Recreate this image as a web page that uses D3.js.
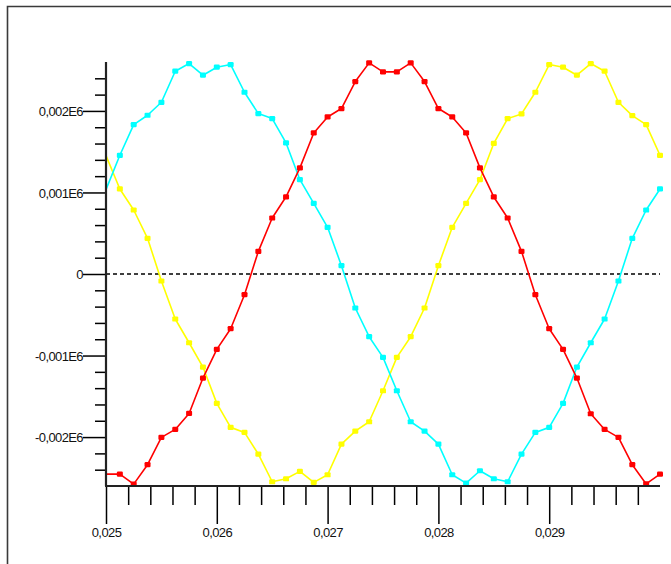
<!DOCTYPE html>
<html>
<head>
<meta charset="utf-8">
<script src="https://cdn.jsdelivr.net/npm/d3@7/dist/d3.min.js"></script>
<style>
html,body{margin:0;padding:0;background:#fff;}
svg{display:block;}
text{font-family:"Liberation Sans",Arial,sans-serif;}
</style>
</head>
<body>
<svg id="chart" width="671" height="564"></svg>
<script>
// sample times (s)
const times = [0.025,0.025125,0.02525,0.025375,0.0255,0.025625,0.02575,0.025875,0.026,0.026125,
  0.02625,0.026375,0.0265,0.026625,0.02675,0.026875,0.027,0.027125,0.02725,0.027375,
  0.0275,0.027625,0.02775,0.027875,0.028,0.028125,0.02825,0.028375,0.0285,0.028625,
  0.02875,0.028875,0.029,0.029125,0.02925,0.029375,0.0295,0.029625,0.02975,0.029875,0.03];
const redValues = [-2454,-2454,-2577,-2339,-2004,-1906,-1710,-1276,-924,-671,
  -254,278,687,947,1301,1730,1926,2029,2360,2589,
  2479,2479,2589,2360,2029,1926,1730,1301,945,687,
  278,-254,-671,-924,-1276,-1714,-1906,-2004,-2339,-2575,-2454];
const cyanValues = [1035,1456,1832,1947,2106,2487,2581,2438,2536,2569,
  2229,1967,1906,1607,1157,867,573,102,-417,-769,
  -1023,-1432,-1812,-1926,-2086,-2462,-2564,-2413,-2511,-2548,
  -2209,-1943,-1881,-1587,-1141,-843,-552,-86,438,785,1043];
const yellowValues = [1452,1043,785,438,-86,-552,-843,-1141,-1587,-1881,
  -1943,-2209,-2548,-2511,-2421,-2556,-2462,-2086,-1926,-1812,
  -1432,-1023,-769,-417,102,573,867,1157,1603,1906,
  1963,2229,2569,2536,2438,2581,2487,2106,1943,1832,1456];
const xTickLabels = ["0,025","0,026","0,027","0,028","0,029"];
const xMajorTicks = [0.025,0.026,0.027,0.028,0.029];
const yTickLabels = ["-0,002E6","-0,001E6","0","0,001E6","0,002E6"];
const yMajorTicks = [-2000,-1000,0,1000,2000];

const series = [
  {name:"yellow", values:yellowValues, color:"#ffff00"},
  {name:"cyan", values:cyanValues, color:"#00ffff"},
  {name:"red", values:redValues, color:"#ff0000"}
];

const svg = d3.select("#chart");
const x = d3.scaleLinear().domain([0.025,0.030]).range([106,660]);
const y = d3.scaleLinear().domain([-2600,2600]).range([486,62]);

// outer frame
svg.append("path")
  .attr("d","M7.5,580 L7.5,6.5 L700,6.5")
  .attr("fill","none").attr("stroke","#3a3a3a").attr("stroke-width",1.6);

// zero dashed line
svg.append("line")
  .attr("x1",x(0.025)).attr("x2",x(0.030))
  .attr("y1",y(0)).attr("y2",y(0))
  .attr("stroke","#000").attr("stroke-width",1.3).attr("stroke-dasharray","4,3");

// series
const line = d3.line().x((d,i)=>x(times[i])).y(d=>y(d));
series.forEach(s=>{
  const g = svg.append("g");
  g.append("path").datum(s.values)
    .attr("d",line).attr("fill","none")
    .attr("stroke",s.color).attr("stroke-width",1.6).attr("stroke-linejoin","round");
  g.selectAll("rect").data(s.values.map((v,i)=>({v,t:times[i]})).filter(d=>d.t>0.025))
    .join("rect")
    .attr("x",d=>x(d.t)-3).attr("y",d=>y(d.v)-2.6)
    .attr("width",6).attr("height",5.2).attr("rx",1.2)
    .attr("fill",s.color);
});

// Y axis
const yMinor = d3.range(-2400,2401,200);
const yAx = svg.append("g").attr("transform",`translate(${x(0.025)},0)`);
yAx.call(d3.axisLeft(y).tickValues(yMinor).tickSize(0).tickFormat(""));
yAx.select(".domain").remove();
yAx.selectAll(".tick line")
  .attr("x2",d=>yMajorTicks.includes(d)? -23 : -11)
  .attr("stroke","#000").attr("stroke-width",1.5);
yAx.selectAll(".tick").filter(d=>yMajorTicks.includes(d)).append("text")
  .attr("x",-23).attr("dy","0.35em").attr("text-anchor","end")
  .attr("fill","#111").attr("font-size",13).attr("letter-spacing","-0.6px")
  .text(d=>yTickLabels[yMajorTicks.indexOf(d)]);
svg.append("line").attr("x1",x(0.025)).attr("x2",x(0.025))
  .attr("y1",y(2600)).attr("y2",y(-2600)).attr("stroke","#222").attr("stroke-width",2.2);

// X axis
const xMinor = d3.range(0,25).map(i=>0.025+i*0.0002);
const xAx = svg.append("g").attr("transform",`translate(0,${y(-2600)})`);
xAx.call(d3.axisBottom(x).tickValues(xMinor).tickSize(0).tickFormat(""));
xAx.select(".domain").remove();
xAx.selectAll(".tick line")
  .attr("y2",(d,i)=> i%5===0 ? 38 : 19)
  .attr("stroke","#000").attr("stroke-width",1.5);
xAx.selectAll(".tick").filter((d,i)=>i%5===0).append("text")
  .attr("y",51).attr("text-anchor","middle")
  .attr("fill","#111").attr("font-size",13).attr("letter-spacing","-0.6px")
  .text((d,i)=>xTickLabels[i]);
svg.append("line").attr("x1",x(0.025)-1).attr("x2",x(0.030))
  .attr("y1",y(-2600)).attr("y2",y(-2600)).attr("stroke","#222").attr("stroke-width",2.2);
</script>
</body>
</html>
